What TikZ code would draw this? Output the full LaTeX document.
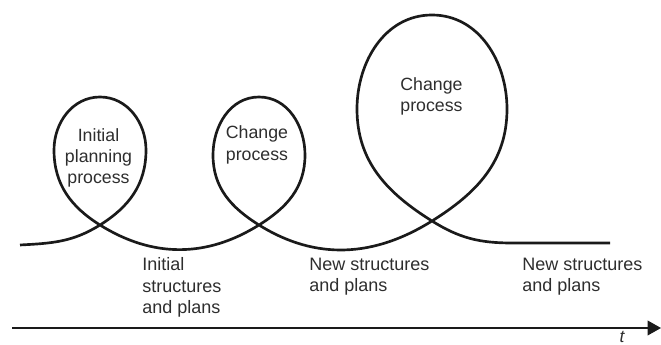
\documentclass[tikz,border=0pt]{standalone}
\usepackage{fontspec}
\setmainfont{Liberation Sans}
\usetikzlibrary{arrows.meta}
\definecolor{ink}{HTML}{1A1A1A}
\definecolor{txt}{HTML}{2E2E2E}
\begin{document}
\begin{tikzpicture}[x=0.75pt,y=0.75pt,
  curve/.style={draw=ink,line width=2pt},
  axisline/.style={draw=ink,line width=1.1pt,-{Triangle[length=10pt,width=11pt]}},
  intext/.style={text=txt,font=\fontsize{13.3}{16}\selectfont,align=center,inner sep=0pt},
  outtext/.style={text=txt,font=\fontsize{13.5}{16}\selectfont,align=left,inner sep=0pt,anchor=west}]
\useasboundingbox (0,0) rectangle (661,345);
% spiral curve
\draw[curve] (20,100) to[out=3,in=212] (100,120)
  to[out=32,in=270] (146,195) to[out=90,in=0] (100,248)
  to[out=180,in=90] (54,195) to[out=270,in=148] (100,120)
  to[out=-32,in=212] (259,120)
  to[out=32,in=270] (305,190) to[out=90,in=0] (259,248)
  to[out=180,in=90] (213,190) to[out=270,in=148] (259,120)
  to[out=-32,in=212] (432,124)
  to[out=32,in=270] (507,236) to[out=90,in=0] (432,330)
  to[out=180,in=90] (357,236) to[out=270,in=148] (432,124)
  to[out=-32,in=180] (512,102) -- (610,102);
% loop labels
\node[intext] (p1) at (98.5,187) {Initial\\planning\\process};
\node[intext] (p2) at (257,200) {Change\\process};
\node[intext] (p3) at (431.5,248.5) {Change\\process};
% outcome labels
\node[outtext] (s1) at (142,57.5) {Initial\\structures\\and plans};
\node[outtext] (s2) at (309,68) {New structures\\and plans};
\node[outtext] (s3) at (522,68) {New structures\\and plans};
% time axis
\coordinate (a0) at (12,17);
\coordinate (a1) at (661,17);
\draw[axisline] (a0) -- (a1);
\node[text=txt,font=\fontsize{13}{14}\selectfont\itshape,inner sep=0pt,anchor=base] (t) at (622,2) {t};
\end{tikzpicture}
\end{document}
